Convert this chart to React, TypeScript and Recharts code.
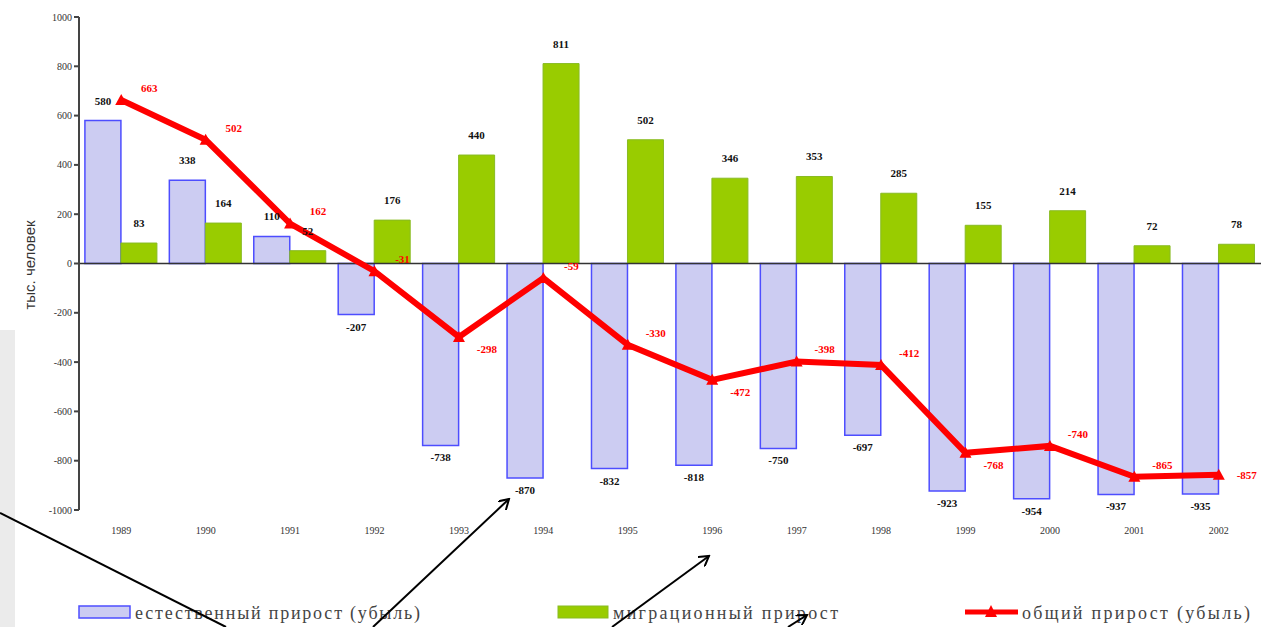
import { ComposedChart, Bar, Line, XAxis, YAxis, ReferenceLine } from "recharts";

const years = ["1989", "1990", "1991", "1992", "1993", "1994", "1995", "1996", "1997", "1998", "1999", "2000", "2001", "2002"];
const natural = [580, 338, 110, -207, -738, -870, -832, -818, -750, -697, -923, -954, -937, -935];
const migration = [83, 164, 52, 176, 440, 811, 502, 346, 353, 285, 155, 214, 72, 78];
const total = [663, 502, 162, -31, -298, -59, -330, -472, -398, -412, -768, -740, -865, -857];
const yTicks = [-1000, -800, -600, -400, -200, 0, 200, 400, 600, 800, 1000];

const legendNames = ["естественный прирост (убыль)", "миграционный прирост", "общий прирост (убыль)"];

const data = years.map((y, i) => ({
    label: y,
    natural: natural[i],
    migration: migration[i],
    total: total[i],
}));

const SERIF = "'Liberation Serif', 'DejaVu Serif', serif";

const BarLabel = (props: any) => {
    const { x, y, width, height, value } = props;
    const top = Math.min(y, y + height);
    const bottom = Math.max(y, y + height);
    const cx = x + width / 2;
    const ty = value >= 0 ? top - 16 : bottom + 16;
    return (
        <text x={cx} y={ty} textAnchor="middle" fontFamily={SERIF} fontSize={11} fontWeight="bold" fill="#111">
            {value}
        </text>
    );
};

// label goes below the point when the line climbs clearly afterwards, above otherwise
const LineLabel = (props: any) => {
    const { x, y, value, index } = props;
    const next = total[index + 1];
    let dy = -12;
    if (next === undefined) dy = 0;
    else if (next > value + 20) dy = 12;
    return (
        <text x={x + 28} y={y + dy} dy="0.35em" textAnchor="middle" fontFamily={SERIF} fontSize={11} fontWeight="bold" fill="#ff0000">
            {value}
        </text>
    );
};

const TriangleDot = (props: any) => {
    const { cx, cy, index } = props;
    if (cx == null || cy == null) return null;
    return <polygon key={index} points={`${cx},${cy - 6} ${cx - 6},${cy + 5} ${cx + 6},${cy + 5}`} fill="#ff0000" />;
};

export default function App() {
    return (
        <div style={{ position: "absolute", left: 0, top: 0, width: 1261, height: 627, background: "#fff", overflow: "hidden" }}>
            <ComposedChart
                width={1261}
                height={627}
                data={data}
                margin={{ top: 17, right: 0, left: 29, bottom: 87 }}
                barCategoryGap="7%"
                barGap={0}
            >
                <XAxis
                    dataKey="label"
                    axisLine={false}
                    tickLine={false}
                    tickSize={0}
                    tickMargin={17}
                    height={30}
                    interval={0}
                    tick={{ fontFamily: SERIF, fontSize: 10, fill: "#333" }}
                />
                <YAxis
                    width={50}
                    domain={[-1000, 1000]}
                    ticks={yTicks}
                    interval={0}
                    axisLine={{ stroke: "#444", strokeWidth: 2 }}
                    tickLine={{ stroke: "#444", strokeWidth: 2 }}
                    tickSize={5}
                    tick={{ fontFamily: SERIF, fontSize: 10, fill: "#333" }}
                />
                <ReferenceLine y={0} stroke="#333" strokeWidth={1.5} />
                <Bar dataKey="natural" fill="#ccccf2" stroke="#4d4dff" strokeWidth={1.5} isAnimationActive={false} label={<BarLabel />} />
                <Bar dataKey="migration" fill="#99cc00" stroke="#88bb22" strokeWidth={1} isAnimationActive={false} label={<BarLabel />} />
                <Line
                    dataKey="total"
                    type="linear"
                    stroke="#ff0000"
                    strokeWidth={6}
                    dot={<TriangleDot />}
                    activeDot={false}
                    isAnimationActive={false}
                    label={<LineLabel />}
                />
            </ComposedChart>

            <svg width={1261} height={627} style={{ position: "absolute", left: 0, top: 0, pointerEvents: "none" }}>
                <defs>
                    <marker id="arr" markerWidth="12" markerHeight="12" refX="10" refY="6" orient="auto" markerUnits="userSpaceOnUse">
                        <path d="M0,0 L10,6 L0,12" fill="none" stroke="#000" strokeWidth="2" />
                    </marker>
                </defs>
                <rect x={0} y={330} width={15} height={297} fill="#ebebeb" />
                <text
                    transform="translate(35,265) rotate(-90)"
                    textAnchor="middle"
                    fontFamily="'Liberation Sans', Arial, sans-serif"
                    fontSize={15}
                    fill="#333"
                >
                    тыс. человек
                </text>

                {/* legend */}
                <rect x={79} y={606} width={51} height={12} fill="#ccccf2" stroke="#4d4dff" strokeWidth={1.5} />
                <text x={135} y={619} fontFamily={SERIF} fontSize={18} fill="#444" textLength={285} lengthAdjust="spacing">
                    {legendNames[0]}
                </text>
                <rect x={558} y={606} width={50} height={12} fill="#99cc00" stroke="#88bb22" strokeWidth={1} />
                <text x={613} y={619} fontFamily={SERIF} fontSize={18} fill="#444" textLength={225} lengthAdjust="spacing">
                    {legendNames[1]}
                </text>
                <line x1={965} y1={612} x2={1018} y2={612} stroke="#ff0000" strokeWidth={5} />
                <polygon points="991,605 985,617 997,617" fill="#ff0000" />
                <text x={1022} y={619} fontFamily={SERIF} fontSize={18} fill="#444" textLength={228} lengthAdjust="spacing">
                    {legendNames[2]}
                </text>

                {/* annotation arrows */}
                <line x1={0} y1={513} x2={226} y2={627} stroke="#000" strokeWidth={2} />
                <line x1={373} y1={627} x2={509} y2={499} stroke="#000" strokeWidth={2} markerEnd="url(#arr)" />
                <line x1={612} y1={627} x2={709} y2={556} stroke="#000" strokeWidth={2} markerEnd="url(#arr)" />
                <line x1={788} y1={627} x2={807} y2={615} stroke="#000" strokeWidth={2} markerEnd="url(#arr)" />
            </svg>
        </div>
    );
}
